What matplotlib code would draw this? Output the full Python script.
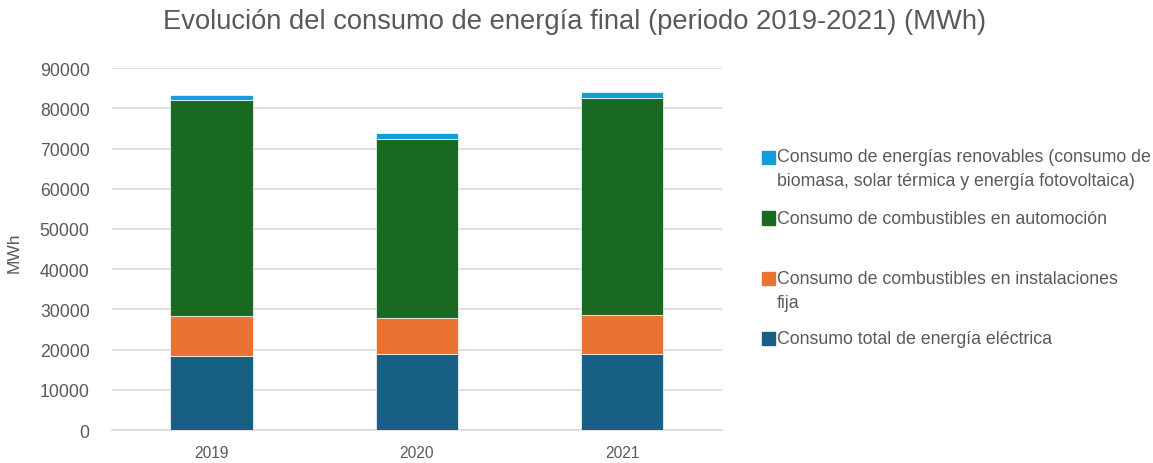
import matplotlib
matplotlib.use("Agg")
import matplotlib.pyplot as plt
from matplotlib.patches import Rectangle
import numpy as np

years = ["2019", "2020", "2021"]
electrica = [18300, 19000, 18800]
instalaciones = [10100, 8900, 9800]
automocion = [53600, 44500, 54000]
renovables = [1300, 1400, 1400]

labels = [
    "Consumo total de energía eléctrica",
    "Consumo de combustibles en instalaciones\nfija",
    "Consumo de combustibles en automoción",
    "Consumo de energías renovables (consumo de\nbiomasa, solar térmica y energía fotovoltaica)",
]
colors = ["#175f83", "#ea7333", "#1b6a23", "#139ed9"]

FONT = ["Liberation Sans", "DejaVu Sans"]
plt.rcParams["font.family"] = FONT
TXT = "#595959"

fig = plt.figure(figsize=(11.53, 4.64), dpi=100)
ax = fig.add_axes([0.097, 0.071, 0.529, 0.780])

x = np.arange(len(years))
bottom = np.zeros(len(years))
for vals, c in zip([electrica, instalaciones, automocion, renovables], colors):
    ax.bar(x, vals, 0.40, bottom=bottom, color=c, edgecolor="white", linewidth=0.5, zorder=3)
    bottom += np.array(vals)

ax.set_xlim(-0.485, 2.485)
ax.set_ylim(0, 90000)
ax.set_yticks(np.arange(0, 90001, 10000))
ax.set_xticks(x)
ax.set_xticklabels(years)
ax.grid(axis="y", color="#d9d9d9", linewidth=1.2, zorder=0)
for s in ["top", "right", "left"]:
    ax.spines[s].set_visible(False)
ax.spines["bottom"].set_color("#d9d9d9")
ax.spines["bottom"].set_linewidth(1.2)
ax.tick_params(axis="y", length=0, pad=16, labelsize=12.7, labelcolor=TXT)
ax.tick_params(axis="x", length=0, pad=11, labelsize=11.2, labelcolor=TXT)
ax.set_ylabel("MWh", fontsize=12.5, color=TXT)
ax.yaxis.set_label_coords(-0.1475, 0.494)

fig.text(0.498, 0.953, "Evolución del consumo de energía final (periodo 2019-2021) (MWh)",
         ha="center", va="center", fontsize=19.7, color=TXT)

# legend (manual to match irregular spacing)
leg_y = [339, 279, 219, 158]  # pixel centres of first line of each entry (from top)
H = 464.0
W = 1153.0
LINE = 24
for lab, c, yy in zip(labels, colors, leg_y):
    fig.patches.append(Rectangle((762 / W, 1 - (yy + 6.5) / H), 13 / W, 13 / H,
                                 transform=fig.transFigure, color=c, figure=fig))
    for i, line in enumerate(lab.split("\n")):
        fig.text(777 / W, 1 - (yy + i * LINE) / H, line, ha="left", va="center",
                 fontsize=12.8, color=TXT)

fig.savefig("out.png", dpi=100)
